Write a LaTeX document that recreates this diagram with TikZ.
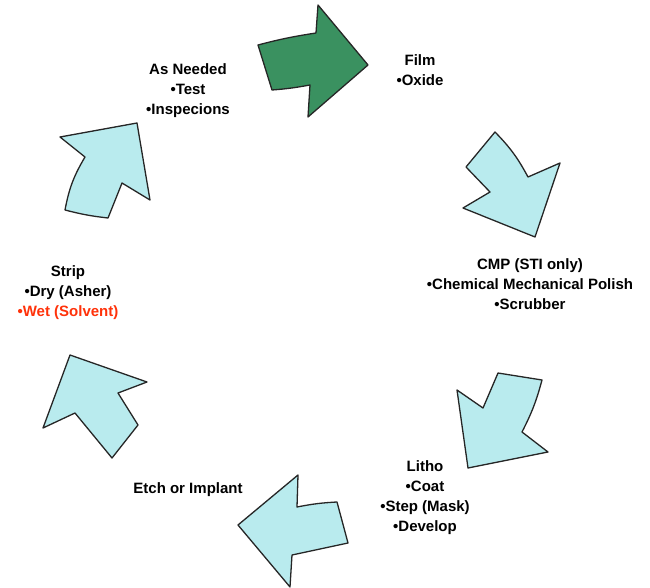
\documentclass[tikz,border=0pt]{standalone}
\usepackage{fontspec}
\setmainfont{Liberation Sans}
\begin{document}
\begin{tikzpicture}[x=1pt,y=-1pt,
  lbl/.style={align=center,font=\fontsize{15}{20}\selectfont\bfseries,inner sep=0pt},
  cyc/.style={draw=black!85,line width=1.3pt,line join=round,fill=arrowcyan},
  cycgreen/.style={cyc,fill=arrowgreen}]
\definecolor{arrowcyan}{RGB}{185,235,238}
\definecolor{arrowgreen}{RGB}{58,145,96}
\definecolor{redtxt}{RGB}{255,50,10}
\useasboundingbox (0,0) rectangle (650,588);
% arrows
\draw[cycgreen] (258,45) to[bend left=3] (316,33) -- (318,5) -- (368,65) -- (308,117) -- (310,85) to[bend left=3] (272,90) -- cycle;
\draw[cyc] (466,167) -- (495,132) to[bend left=8] (528,177) -- (560,163) -- (535,237) -- (463,208) -- (490,192) -- cycle;
\draw[cyc] (498,373) -- (542,380) to[bend left=6] (522,432) -- (548,452) -- (468,468) -- (457,390) -- (483,408) -- cycle;
\draw[cyc] (298,475) -- (297,507) to[bend left=4] (337,502) -- (348,543) -- (292,555) -- (290,587) -- (238,525) -- cycle;
\draw[cyc] (70,355) -- (147,382) -- (118,393) -- (138,425) -- (112,458) -- (75,413) -- (43,428) -- cycle;
\draw[cyc] (137,123) -- (150,200) -- (122,183) -- (108,218) to[bend left=4] (65,210) to[bend left=10] (85,157) -- (60,137) -- cycle;
% labels
\node[lbl] (asneeded) at (188,91) {As Needed\\\textbullet Test\\\textbullet Inspecions};
\node[lbl] (film) at (420,70) {Film\\\textbullet Oxide};
\node[lbl] (cmp) at (530,284) {CMP (STI only)\\\textbullet Chemical Mechanical Polish\\\textbullet Scrubber};
\node[lbl] (strip) at (68,293) {Strip\\\textbullet Dry (Asher)\\\textcolor{redtxt}{\textbullet Wet (Solvent)}};
\node[lbl] (litho) at (425,498) {Litho\\\textbullet Coat\\\textbullet Step (Mask)\\\textbullet Develop};
\node[lbl] (etch) at (188,490) {Etch or Implant};
\end{tikzpicture}
\end{document}
